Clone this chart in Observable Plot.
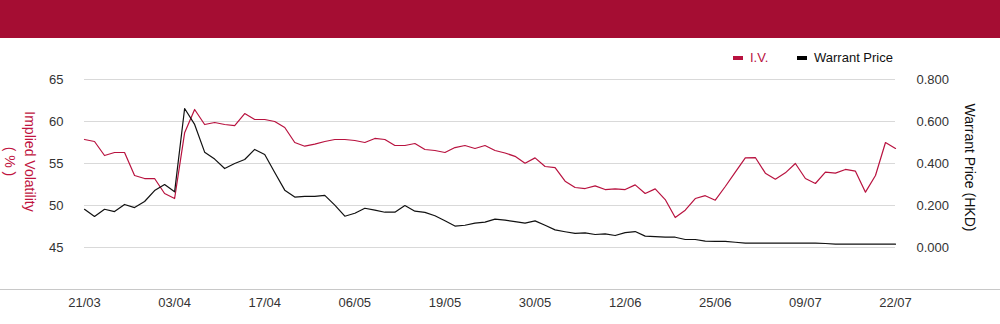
<!DOCTYPE html>
<html><head><meta charset="utf-8">
<script src="https://cdn.jsdelivr.net/npm/d3@7"></script>
<script src="https://cdn.jsdelivr.net/npm/@observablehq/plot@0.6"></script>
<style>
body{margin:0;background:#fff;font-family:"Liberation Sans",Arial,sans-serif;}
#header{height:38px;background:#a50d33;}
#legend{position:relative;height:32px;font-size:13px;}
.item{position:absolute;top:12px;display:flex;align-items:center;height:16px;line-height:16px;}
.sw{display:inline-block;width:10px;height:4px;margin-right:7px;}
#chart svg{display:block;}
</style></head><body>
<div id="header"></div>
<div id="legend">
  <div class="item" style="left:733px;color:#b8123f"><span class="sw" style="background:#b8123f"></span>I.V.</div>
  <div class="item" style="left:797px;color:#111"><span class="sw" style="background:#000"></span>Warrant Price</div>
</div>
<div id="chart"></div>
<script>
const ivValues = [
  57.86, 57.62, 55.95, 56.31, 56.31, 53.57, 53.21, 53.21, 51.43, 50.83,
  58.65, 61.43, 59.64, 59.88, 59.64, 59.52, 60.95, 60.24, 60.24, 60.00,
  59.29, 57.50, 57.06, 57.30, 57.62, 57.86, 57.86, 57.74, 57.50, 57.98,
  57.86, 57.14, 57.14, 57.38, 56.67, 56.55, 56.31, 56.90, 57.14, 56.79,
  57.14, 56.55, 56.25, 55.85, 55.04, 55.67, 54.64, 54.52, 52.90, 52.14,
  52.02, 52.34, 51.90, 51.98, 51.90, 52.46, 51.43, 51.98, 50.71, 48.57,
  49.44, 50.83, 51.17, 50.63, 52.26, 53.97, 55.67, 55.71, 53.85, 53.13,
  53.89, 55.00, 53.21, 52.62, 53.97, 53.85, 54.29, 54.09, 51.59, 53.57,
  57.50, 56.79
];
const priceValues = [
  0.182, 0.148, 0.182, 0.171, 0.205, 0.190, 0.219, 0.271, 0.300, 0.265,
  0.662, 0.586, 0.454, 0.421, 0.376, 0.400, 0.419, 0.467, 0.443, 0.357,
  0.273, 0.240, 0.243, 0.243, 0.248, 0.202, 0.149, 0.163, 0.187, 0.178,
  0.168, 0.168, 0.200, 0.173, 0.167, 0.151, 0.127, 0.102, 0.106, 0.116,
  0.121, 0.135, 0.130, 0.123, 0.116, 0.127, 0.106, 0.084, 0.075, 0.067,
  0.070, 0.062, 0.065, 0.057, 0.071, 0.076, 0.054, 0.052, 0.049, 0.049,
  0.038, 0.038, 0.030, 0.029, 0.029, 0.025, 0.021, 0.021, 0.021, 0.021,
  0.021, 0.021, 0.021, 0.021, 0.019, 0.016, 0.016, 0.016, 0.016, 0.016,
  0.016, 0.016
];
const xTickLabels = ["21/03","03/04","17/04","06/05","19/05","30/05","12/06","25/06","09/07","22/07"];
const xTickStep = 9;
const ivTicks = [45, 50, 55, 60, 65];
const priceTicks = [0, 0.2, 0.4, 0.6, 0.8];

const red = "#b8123f";
// price axis maps 0..0.8 onto IV 45..65
const priceToIv = p => 45 + p * 25;
const ivToPrice = v => (v - 45) / 25;

const data = ivValues.map((iv, i) => ({i, iv, price: priceValues[i]}));
const xTicks = xTickLabels.map((_, k) => k * xTickStep);

const chart = Plot.plot({
  width: 1000,
  height: 254,
  marginLeft: 84,
  marginRight: 105,
  marginTop: 9,
  marginBottom: 35,
  style: {fontFamily: "'Liberation Sans', Arial, sans-serif", fontSize: "13px", background: "#fff"},
  x: {domain: [0, ivValues.length - 1], axis: null},
  y: {domain: [40, 65], axis: null},
  marks: [
    Plot.gridY(ivTicks, {stroke: "#d9d9d9", strokeOpacity: 1}),
    Plot.ruleY([40], {stroke: "#c8c8c8", insetLeft: -84, insetRight: -105}),
    Plot.axisY(ivTicks, {anchor: "left", tickSize: 0, tickPadding: 21, fontSize: 13, fill: "#333", label: null}),
    Plot.axisY(priceTicks.map(priceToIv), {anchor: "right", tickSize: 0, tickPadding: 21, fontSize: 13, fill: "#333", label: null,
      tickFormat: v => ivToPrice(v).toFixed(3)}),
    Plot.axisX(xTicks, {anchor: "bottom", tickSize: 0, tickPadding: 8, fontSize: 13, fill: "#333", label: null,
      tickFormat: i => xTickLabels[i / xTickStep]}),
    Plot.lineY(data, {x: "i", y: "iv", stroke: red, strokeWidth: 1.2}),
    Plot.lineY(data, {x: "i", y: d => priceToIv(d.price), stroke: "#111", strokeWidth: 1.2}),
    Plot.text(["Implied Volatility\n( % )"], {text: d => d, frameAnchor: "left", dx: -63, dy: -23, rotate: 90,
      fill: "#c0143f", fontSize: 14, lineHeight: 1.4, textAnchor: "middle"}),
    Plot.text(["Warrant Price (HKD)"], {text: d => d, frameAnchor: "right", dx: 74, dy: -17, rotate: 90,
      fill: "#111", fontSize: 14, textAnchor: "middle"})
  ]
});
document.getElementById("chart").appendChild(chart);
</script>
</body></html>
